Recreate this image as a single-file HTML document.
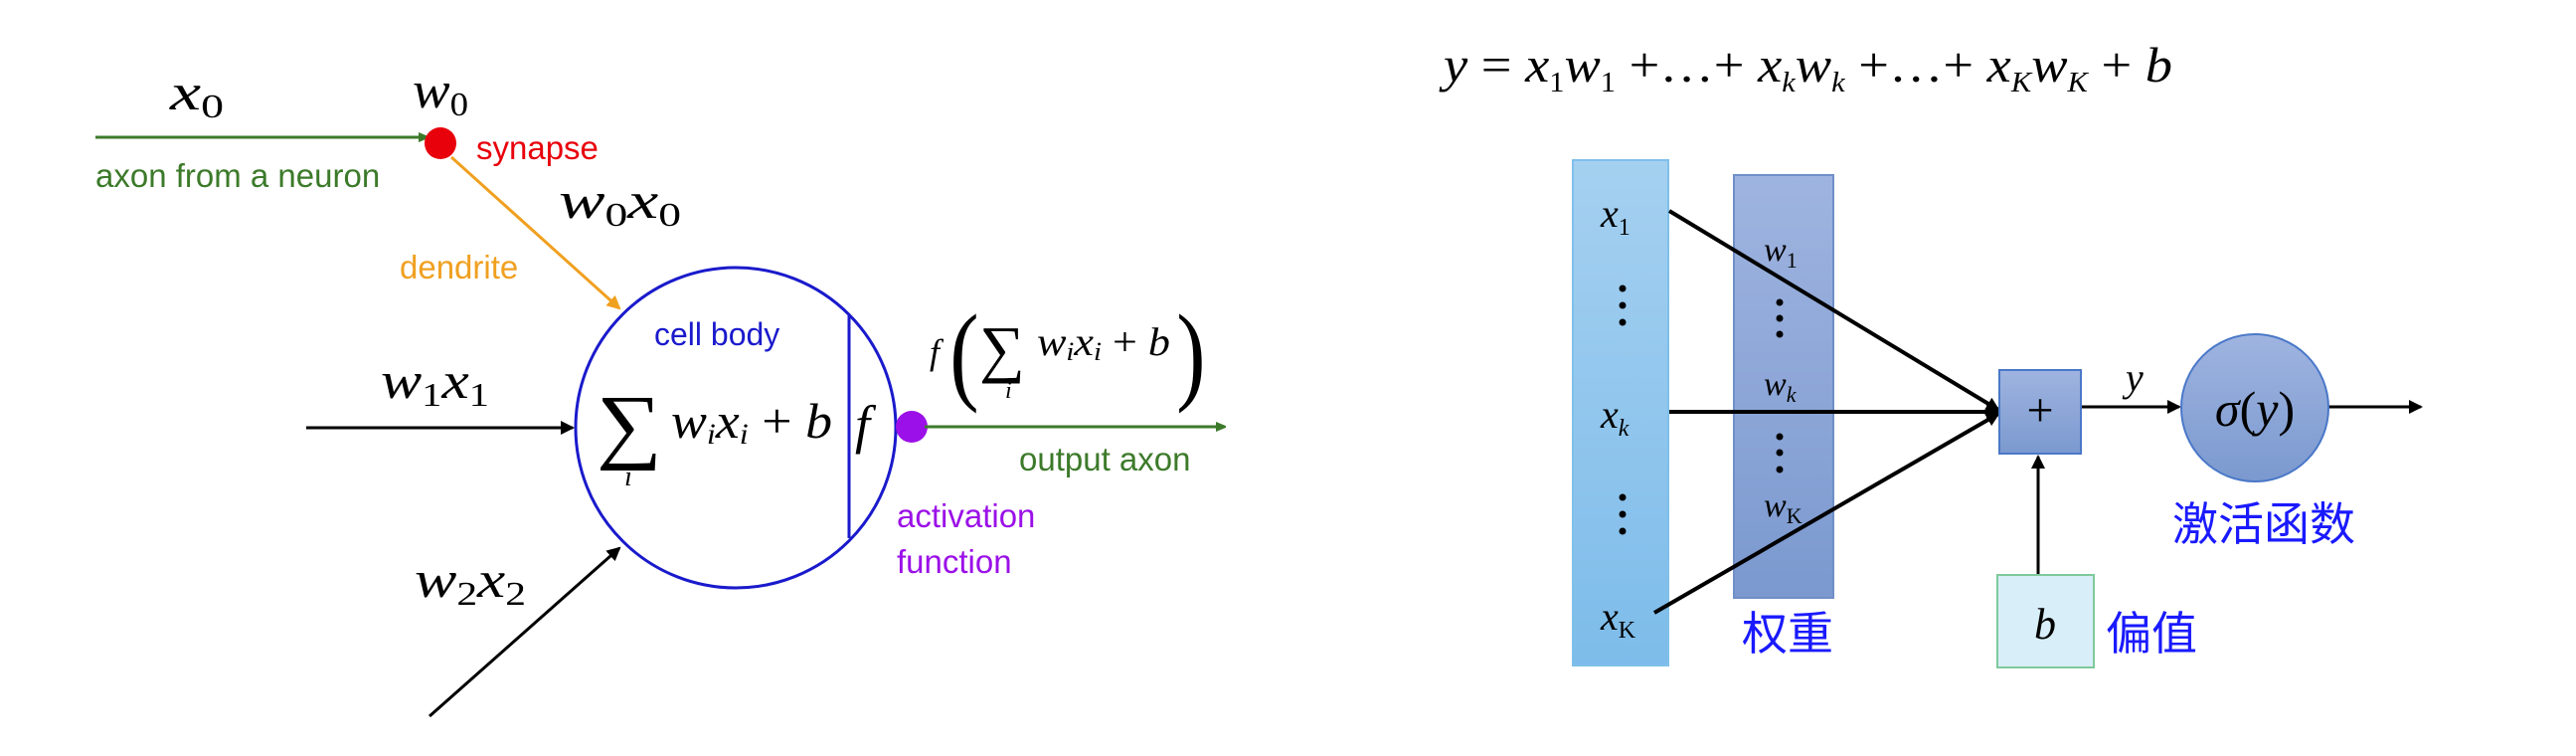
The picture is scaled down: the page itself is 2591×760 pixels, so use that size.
<!DOCTYPE html>
<html><head><meta charset="utf-8"><style>
html,body{margin:0;padding:0;background:#fff;}
svg{display:block;}
.m{font-family:"Liberation Serif",serif;font-style:italic;}
.s{font-family:"Liberation Sans",sans-serif;}
.c{font-family:"Liberation Sans","Noto Sans CJK SC",sans-serif;}
</style></head><body>
<svg width="2591" height="760" viewBox="0 0 2591 760" xmlns="http://www.w3.org/2000/svg">
<defs>
<marker id="ag" markerWidth="10" markerHeight="10" refX="9" refY="5" orient="auto" markerUnits="userSpaceOnUse"><path d="M0,0 L12,5 L0,10 z" fill="#3c7a2a"/></marker>
<marker id="ao" markerWidth="14" markerHeight="14" refX="12" refY="7" orient="auto" markerUnits="userSpaceOnUse"><path d="M0,0 L14,7 L0,14 z" fill="#f0a020"/></marker>
<marker id="ab" markerWidth="14" markerHeight="14" refX="12" refY="7" orient="auto" markerUnits="userSpaceOnUse"><path d="M0,0 L14,7 L0,14 z" fill="#000"/></marker>
<linearGradient id="gx" x1="0" y1="0" x2="0" y2="1"><stop offset="0" stop-color="#a5d0f0"/><stop offset="1" stop-color="#7dbcea"/></linearGradient>
<linearGradient id="gw" x1="0" y1="0" x2="0" y2="1"><stop offset="0" stop-color="#9fb4e0"/><stop offset="1" stop-color="#7b99cf"/></linearGradient>
</defs>
<!-- LEFT -->
<line x1="96" y1="138" x2="430" y2="138" stroke="#3c7a2a" stroke-width="3" marker-end="url(#ag)"/>
<circle cx="443" cy="144" r="16" fill="#e8000b"/>
<text x="171" y="110" class="m" font-size="52" textLength="54" lengthAdjust="spacingAndGlyphs">x<tspan font-size="34" font-style="normal" dy="8">0</tspan></text>
<text x="415" y="108" class="m" font-size="52" textLength="56" lengthAdjust="spacingAndGlyphs">w<tspan font-size="34" font-style="normal" dy="8">0</tspan></text>
<text x="96" y="188" class="s" font-size="33" fill="#3c7a2a">axon from a neuron</text>
<text x="479" y="160" class="s" font-size="33" fill="#e8000b">synapse</text>
<line x1="454" y1="158" x2="623" y2="310" stroke="#f0a020" stroke-width="3" marker-end="url(#ao)"/>
<text x="562" y="219" class="m" font-size="52" textLength="123" lengthAdjust="spacingAndGlyphs">w<tspan font-size="34" font-style="normal" dy="8">0</tspan><tspan dy="-8">x</tspan><tspan font-size="34" font-style="normal" dy="8">0</tspan></text>
<text x="402" y="280" class="s" font-size="33" fill="#f0a020">dendrite</text>
<circle cx="740" cy="430" r="161" fill="none" stroke="#1a1acc" stroke-width="3"/>
<line x1="854" y1="317" x2="854" y2="541" stroke="#1a1acc" stroke-width="3"/>
<text x="658" y="347" class="s" font-size="32" fill="#1a1acc">cell body</text>
<text x="600" y="455" font-family="Liberation Serif,serif" font-size="84" textLength="66" lengthAdjust="spacingAndGlyphs">∑</text>
<text x="628" y="488" class="m" font-size="28">i</text>
<text x="675" y="440" class="m" font-size="50" textLength="162" lengthAdjust="spacingAndGlyphs">w<tspan font-size="30" dy="6">i</tspan><tspan dy="-6">x</tspan><tspan font-size="30" dy="6">i</tspan><tspan dy="-6" font-style="normal"> + </tspan>b</text>
<text x="860" y="445" class="m" font-size="54">f</text>
<circle cx="917" cy="429" r="16" fill="#9b10e8"/>
<line x1="930" y1="429" x2="1232" y2="429" stroke="#3c7a2a" stroke-width="3" marker-end="url(#ag)"/>
<text x="1025" y="473" class="s" font-size="33" fill="#3c7a2a">output axon</text>
<text x="902" y="530" class="s" font-size="33" fill="#9b10e8">activation</text>
<text x="902" y="576" class="s" font-size="33" fill="#9b10e8">function</text>
<text x="935" y="366" class="m" font-size="36">f</text>
<text x="955" y="392" font-family="Liberation Serif,serif" font-size="110" transform="scale(0.8,1) translate(239,0)">(</text>
<text x="985" y="372" font-family="Liberation Serif,serif" font-size="64">∑</text>
<text x="1011" y="400" class="m" font-size="24">i</text>
<text x="1043" y="357" class="m" font-size="40" textLength="134" lengthAdjust="spacingAndGlyphs">w<tspan font-size="26" dy="5">i</tspan><tspan dy="-5">x</tspan><tspan font-size="26" dy="5">i</tspan><tspan dy="-5" font-style="normal"> + </tspan>b</text>
<text x="1183" y="392" font-family="Liberation Serif,serif" font-size="110" transform="scale(0.8,1) translate(296,0)">)</text>
<line x1="308" y1="430" x2="576" y2="430" stroke="#000" stroke-width="3" marker-end="url(#ab)"/>
<text x="383" y="400" class="m" font-size="52" textLength="109" lengthAdjust="spacingAndGlyphs">w<tspan font-size="34" font-style="normal" dy="8">1</tspan><tspan dy="-8">x</tspan><tspan font-size="34" font-style="normal" dy="8">1</tspan></text>
<text x="417" y="600" class="m" font-size="52" textLength="112" lengthAdjust="spacingAndGlyphs">w<tspan font-size="34" font-style="normal" dy="8">2</tspan><tspan dy="-8">x</tspan><tspan font-size="34" font-style="normal" dy="8">2</tspan></text>
<line x1="432" y1="720" x2="623" y2="551" stroke="#000" stroke-width="3" marker-end="url(#ab)"/>
<!-- RIGHT -->
<text x="1452" y="82" class="m" font-size="50" textLength="733" lengthAdjust="spacingAndGlyphs">y<tspan font-style="normal"> = </tspan>x<tspan font-size="28" font-style="normal" dy="10">1</tspan><tspan dy="-10">w</tspan><tspan font-size="28" font-style="normal" dy="10">1</tspan><tspan font-style="normal" dy="-10"> +…+ </tspan>x<tspan font-size="28" dy="10">k</tspan><tspan dy="-10">w</tspan><tspan font-size="28" dy="10">k</tspan><tspan font-style="normal" dy="-10"> +…+ </tspan>x<tspan font-size="28" dy="10">K</tspan><tspan dy="-10">w</tspan><tspan font-size="28" dy="10">K</tspan><tspan font-style="normal" dy="-10"> + </tspan>b</text>
<rect x="1582" y="161" width="96" height="508" fill="url(#gx)" stroke="#7fc0ea" stroke-width="2"/>
<rect x="1744" y="176" width="100" height="425" fill="url(#gw)" stroke="#6f8fc8" stroke-width="2"/>
<text x="1610" y="228" class="m" font-size="40">x<tspan font-size="24" font-style="normal" dy="8">1</tspan></text>
<text x="1610" y="430" class="m" font-size="40">x<tspan font-size="24" dy="8">k</tspan></text>
<text x="1610" y="633" class="m" font-size="40">x<tspan font-size="24" font-style="normal" dy="8">K</tspan></text>
<g fill="#000"><circle cx="1632" cy="290" r="3.5"/><circle cx="1632" cy="307" r="3.5"/><circle cx="1632" cy="324" r="3.5"/>
<circle cx="1632" cy="500" r="3.5"/><circle cx="1632" cy="517" r="3.5"/><circle cx="1632" cy="534" r="3.5"/>
<circle cx="1790" cy="304" r="3.5"/><circle cx="1790" cy="320" r="3.5"/><circle cx="1790" cy="336" r="3.5"/>
<circle cx="1790" cy="439" r="3.5"/><circle cx="1790" cy="455" r="3.5"/><circle cx="1790" cy="472" r="3.5"/></g>
<text x="1774" y="262" class="m" font-size="34">w<tspan font-size="22" font-style="normal" dy="7">1</tspan></text>
<text x="1774" y="397" class="m" font-size="34">w<tspan font-size="22" dy="7">k</tspan></text>
<text x="1774" y="519" class="m" font-size="34">w<tspan font-size="22" font-style="normal" dy="7">K</tspan></text>
<g stroke="#000" stroke-width="4">
<line x1="1679" y1="212" x2="2010" y2="412" marker-end="url(#ab)"/>
<line x1="1679" y1="414" x2="2010" y2="414" marker-end="url(#ab)"/>
<line x1="1664" y1="616" x2="2010" y2="416" marker-end="url(#ab)"/>
<line x1="2093" y1="409" x2="2192" y2="409" stroke-width="3" marker-end="url(#ab)"/>
<line x1="2342" y1="409" x2="2435" y2="409" stroke-width="3" marker-end="url(#ab)"/>
<line x1="2050" y1="578" x2="2050" y2="459" stroke-width="3" marker-end="url(#ab)"/>
</g>
<rect x="2011" y="372" width="82" height="84" fill="url(#gw)" stroke="#4a78c8" stroke-width="2"/>
<text x="2052" y="428" text-anchor="middle" font-family="Liberation Serif,serif" font-size="48">+</text>
<text x="2138" y="393" class="m" font-size="40">y</text>
<circle cx="2268" cy="410" r="74" fill="url(#gw)" stroke="#4a78c8" stroke-width="2"/>
<text x="2268" y="428" text-anchor="middle" class="m" font-size="50">σ<tspan font-style="normal">(</tspan>y<tspan font-style="normal">)</tspan></text>
<text x="2185" y="543" class="c" font-size="46" fill="#1a1aff">激活函数</text>
<rect x="2009" y="578" width="97" height="93" fill="#d8eef8" stroke="#7fc99b" stroke-width="2"/>
<text x="2057" y="642" text-anchor="middle" class="m" font-size="44">b</text>
<text x="2118" y="653" class="c" font-size="46" fill="#1a1aff">偏值</text>
<text x="1752" y="653" class="c" font-size="46" fill="#1a1aff">权重</text>
</svg>
</body></html>
